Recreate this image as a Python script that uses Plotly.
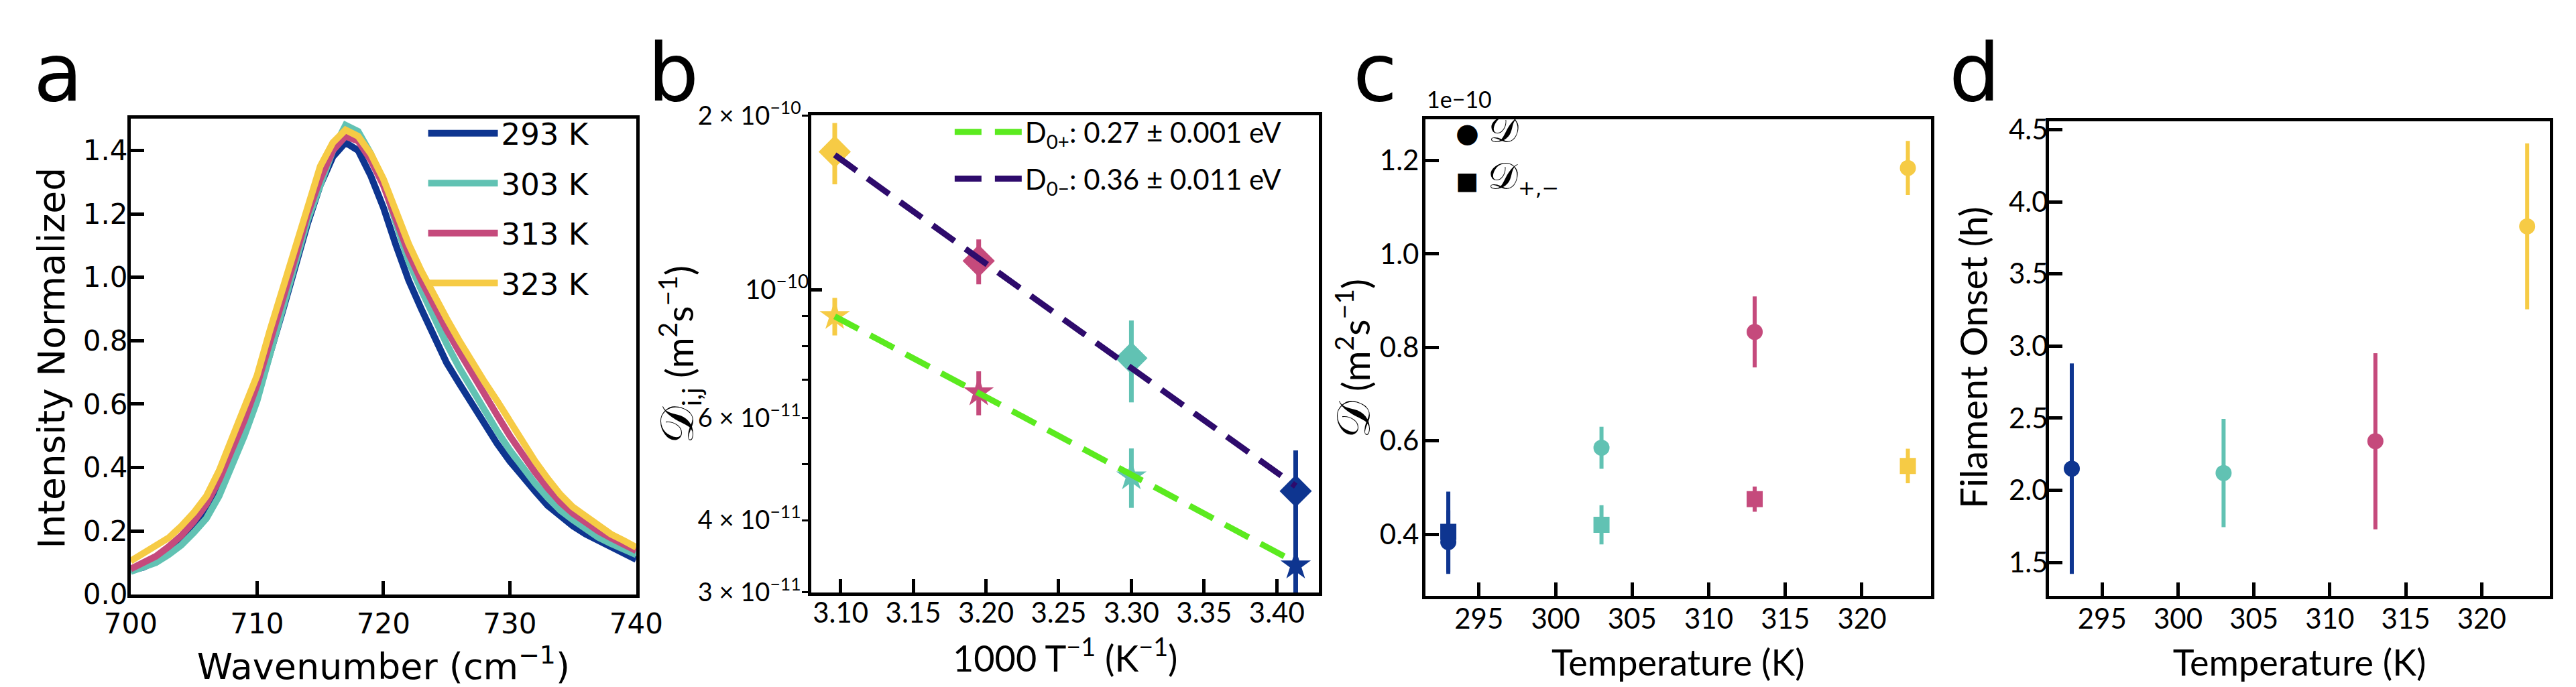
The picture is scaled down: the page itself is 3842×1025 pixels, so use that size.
import plotly.graph_objects as go

W, H = 3842, 1025

# ---------------- data ----------------
# panel a: normalized spectra
wavenumber = list(range(700, 741))
int_293 = [0.075, 0.085, 0.105, 0.13, 0.16, 0.20, 0.25, 0.32, 0.41, 0.51, 0.62, 0.75, 0.89, 1.03, 1.17,
           1.29, 1.38, 1.425, 1.40, 1.32, 1.22, 1.10, 0.99, 0.90, 0.81, 0.73, 0.665, 0.60, 0.535, 0.475,
           0.42, 0.37, 0.325, 0.28, 0.245, 0.215, 0.19, 0.17, 0.15, 0.13, 0.11]
int_303 = [0.072, 0.085, 0.10, 0.125, 0.155, 0.195, 0.24, 0.31, 0.40, 0.50, 0.61, 0.76, 0.90, 1.04, 1.18,
           1.29, 1.40, 1.48, 1.46, 1.39, 1.30, 1.17, 1.05, 0.96, 0.87, 0.79, 0.715, 0.645, 0.58, 0.515,
           0.455, 0.40, 0.35, 0.305, 0.265, 0.235, 0.205, 0.18, 0.16, 0.14, 0.125]
int_313 = [0.08, 0.10, 0.12, 0.15, 0.185, 0.23, 0.285, 0.36, 0.45, 0.55, 0.66, 0.79, 0.93, 1.06, 1.20,
           1.31, 1.40, 1.445, 1.43, 1.37, 1.29, 1.18, 1.075, 0.99, 0.91, 0.835, 0.765, 0.695, 0.63, 0.565,
           0.50, 0.44, 0.385, 0.335, 0.29, 0.255, 0.225, 0.20, 0.178, 0.158, 0.138]
int_323 = [0.105, 0.128, 0.152, 0.178, 0.215, 0.258, 0.31, 0.39, 0.49, 0.59, 0.69, 0.83, 0.96, 1.09, 1.23,
           1.35, 1.425, 1.465, 1.445, 1.39, 1.31, 1.21, 1.105, 1.02, 0.94, 0.87, 0.80, 0.73, 0.67, 0.61,
           0.545, 0.48, 0.42, 0.365, 0.315, 0.275, 0.245, 0.215, 0.19, 0.17, 0.148]
spectra = [int_293, int_303, int_313, int_323]
temp_labels = ["293 K", "303 K", "313 K", "323 K"]
temp_colors = ["#0E3590", "#61C2B3", "#C54A7C", "#F6CB45"]

# panel b: Arrhenius plot (x = 1000/T), ordered 323, 313, 303, 293 K
inv_T = [3.096, 3.195, 3.300, 3.413]
inv_T_colors = ["#F6CB45", "#C54A7C", "#61C2B3", "#0E3590"]
D_minus = [1.732e-10, 1.122e-10, 7.62e-11, 4.49e-11]
D_minus_err = [2.1e-11, 1.0e-11, 1.23e-11, 7.9e-12]
D_plus = [9.01e-11, 6.65e-11, 4.76e-11, 3.34e-11]
D_plus_err = [6.7e-12, 5.8e-12, 5.6e-12, 4.2e-12]
fit_x = [3.096, 3.413]
fit_plus = [9.0e-11, 3.38e-11]
fit_minus = [1.71e-10, 4.58e-11]
fit_labels = ["D<sub>0+</sub>: 0.27 ± 0.001 eV", "D<sub>0−</sub>: 0.36 ± 0.011 eV"]
fit_colors = ["#5BEA1F", "#2E0B6C"]

# panel c: diffusion coefficients (units of 1e-10 m^2/s)
temperature = [293, 303, 313, 323]
D_mean = [0.383, 0.585, 0.833, 1.184]
D_mean_err = [0.068, 0.045, 0.076, 0.058]
D_pm = [0.405, 0.420, 0.475, 0.546]
D_pm_err = [0.086, 0.042, 0.027, 0.037]

# panel d: filament onset (h)
onset = [2.15, 2.12, 2.34, 3.83]
onset_err = [0.73, 0.375, 0.61, 0.575]

# ---------------- figure ----------------
fig = go.Figure()

for lbl, col, ys in zip(temp_labels, temp_colors, spectra):
    fig.add_trace(go.Scatter(x=wavenumber, y=ys, mode="lines", name=lbl, legendgroup=lbl,
                             line=dict(color=col, width=10), xaxis="x", yaxis="y",
                             legend="legend"))

for i in range(len(inv_T)):
    fig.add_trace(go.Scatter(x=[inv_T[i]], y=[D_minus[i]], mode="markers", showlegend=False,
                             marker=dict(symbol="diamond", size=37, color=inv_T_colors[i]),
                             error_y=dict(type="data", array=[D_minus_err[i]], color=inv_T_colors[i],
                                          thickness=7, width=0),
                             xaxis="x2", yaxis="y2"))
    fig.add_trace(go.Scatter(x=[inv_T[i]], y=[D_plus[i]], mode="markers", showlegend=False,
                             marker=dict(symbol="star", size=34, color=inv_T_colors[i]),
                             error_y=dict(type="data", array=[D_plus_err[i]], color=inv_T_colors[i],
                                          thickness=7, width=0),
                             xaxis="x2", yaxis="y2"))
for lbl, col, ys in zip(fit_labels, fit_colors, [fit_plus, fit_minus]):
    fig.add_trace(go.Scatter(x=fit_x, y=ys, mode="lines", name=lbl, legendgroup=lbl,
                             line=dict(color=col, width=9, dash="40px,20px"),
                             xaxis="x2", yaxis="y5", legend="legend2"))

for i in range(len(temperature)):
    fig.add_trace(go.Scatter(x=[temperature[i]], y=[D_mean[i]], mode="markers", showlegend=False,
                             marker=dict(symbol="circle", size=24, color=temp_colors[i]),
                             error_y=dict(type="data", array=[D_mean_err[i]], color=temp_colors[i],
                                          thickness=6, width=0),
                             xaxis="x3", yaxis="y3"))
for i in range(len(temperature)):
    fig.add_trace(go.Scatter(x=[temperature[i]], y=[D_pm[i]], mode="markers", showlegend=False,
                             marker=dict(symbol="square", size=24, color=temp_colors[i]),
                             error_y=dict(type="data", array=[D_pm_err[i]], color=temp_colors[i],
                                          thickness=6, width=0),
                             xaxis="x3", yaxis="y3"))

for i in range(len(temperature)):
    fig.add_trace(go.Scatter(x=[temperature[i]], y=[onset[i]], mode="markers", showlegend=False,
                             marker=dict(symbol="circle", size=24, color=temp_colors[i]),
                             error_y=dict(type="data", array=[onset_err[i]], color=temp_colors[i],
                                          thickness=6, width=0),
                             xaxis="x4", yaxis="y4"))


def px_x(a, b):
    return [a / W, b / W]


def px_y(top, bottom):
    return [1 - bottom / H, 1 - top / H]


DV = "DejaVu Sans"
LT = "Lato"

common = dict(showline=True, linewidth=5, linecolor="black", mirror=True, ticks="inside",
              ticklen=20, tickwidth=5, tickcolor="black", showgrid=False, zeroline=False)

fig.update_layout(
    width=W, height=H, margin=dict(l=0, r=0, t=0, b=0),
    paper_bgcolor="white", plot_bgcolor="white",
    font=dict(color="black", family=LT),
    xaxis=dict(domain=px_x(150, 920), range=[700, 740], tickvals=[700, 710, 720, 730, 740],
               anchor="y", tickfont=dict(family=DV, size=42, color="black"), ticklabelstandoff=3,
               title=dict(text="Wavenumber (cm<sup>−1</sup>)", font=dict(family=DV, size=54, color="black"),
                          standoff=15),
               **common),
    yaxis=dict(domain=px_y(148, 897), range=[0, 1.5], dtick=0.2, tickformat=".1f",
               anchor="x", tickfont=dict(family=DV, size=42, color="black"), ticklabelstandoff=-9,
               **common),
    xaxis2=dict(domain=px_x(1187, 1960), range=[3.080, 3.429],
                tickvals=[3.10, 3.15, 3.20, 3.25, 3.30, 3.35, 3.40], tickformat=".2f",
                anchor="y2", tickfont=dict(family=LT, size=42, color="black"), ticklabelstandoff=-10,
                title=dict(text="1000 T<sup>−1</sup> (K<sup>−1</sup>)",
                           font=dict(family=LT, size=54, color="black"), standoff=28),
                **common),
    yaxis2=dict(domain=px_y(143, 894), type="log", range=[-10.5229, -9.69897],
                tickvals=[3e-11, 4e-11, 6e-11, 2e-10],
                ticktext=["3 × 10<sup>−11</sup>", "4 × 10<sup>−11</sup>", "6 × 10<sup>−11</sup>",
                          "2 × 10<sup>−10</sup>"],
                anchor="x2", tickfont=dict(family=LT, size=38, color="black"), ticklabelstandoff=-6,
                showline=True, linewidth=5, linecolor="black", mirror=True, ticks="outside",
                ticklen=9, tickwidth=3, tickcolor="black", showgrid=False, zeroline=False,
                minor=dict(tickvals=[5e-11, 7e-11, 8e-11, 9e-11], ticks="outside", ticklen=9,
                           tickwidth=3, tickcolor="black", showgrid=False)),
    yaxis5=dict(domain=px_y(143, 894), type="log", range=[-10.5229, -9.69897], overlaying="y2",
                anchor="x2", side="left", tickvals=[1e-10], ticktext=["10<sup>−10</sup>"],
                tickfont=dict(family=LT, size=40, color="black"), ticks="inside", ticklen=16, tickwidth=5,
                tickcolor="black", showline=False, showgrid=False, zeroline=False, ticklabelstandoff=3),
    xaxis3=dict(domain=px_x(2122, 2892), range=[291.5, 324.5], tickvals=[295, 300, 305, 310, 315, 320],
                anchor="y3", tickfont=dict(family=LT, size=42, color="black"), ticklabelstandoff=-6,
                title=dict(text="Temperature (K)", font=dict(family=LT, size=54, color="black"), standoff=26),
                **common),
    yaxis3=dict(domain=px_y(149, 899), range=[0.2685, 1.288], tickvals=[0.4, 0.6, 0.8, 1.0, 1.2],
                tickformat=".1f", anchor="x3", tickfont=dict(family=LT, size=42, color="black"),
                ticklabelstandoff=-4, **common),
    xaxis4=dict(domain=px_x(3072, 3835), range=[291.5, 324.5], tickvals=[295, 300, 305, 310, 315, 320],
                anchor="y4", tickfont=dict(family=LT, size=42, color="black"), ticklabelstandoff=-6,
                title=dict(text="Temperature (K)", font=dict(family=LT, size=54, color="black"), standoff=26),
                **common),
    yaxis4=dict(domain=px_y(152, 899), range=[1.27, 4.558], dtick=0.5, tickformat=".1f",
                anchor="x4", tickfont=dict(family=LT, size=42, color="black"), ticklabelstandoff=-12,
                **common),
    legend=dict(x=598 / W, y=1 - 133 / H, xanchor="left", yanchor="top", bgcolor="rgba(0,0,0,0)",
                font=dict(family=DV, size=45, color="black"), itemwidth=104, traceorder="grouped",
                tracegroupgap=13),
    legend2=dict(x=1400 / W, y=1 - 133 / H, xanchor="left", yanchor="top", bgcolor="rgba(0,0,0,0)",
                 font=dict(family=LT, size=42, color="black"), itemwidth=100, traceorder="grouped",
                 tracegroupgap=12),
    showlegend=True,
)


def paper(xp, yp):
    return dict(x=xp / W, y=1 - yp / H, xref="paper", yref="paper", showarrow=False)


BIG_D = "<span style='font-size:70px'>𝒟</span>"
letters = [("a", 0), ("b", 935), ("c", 2010), ("d", 2918)]
annotations = []
for t, xp in letters:
    a = paper(xp, 0)
    a.update(text=t, xanchor="left", yanchor="top", font=dict(family=DV, size=120, color="black"))
    annotations.append(a)

# y-axis titles
ytitles = [
    ("Intensity Normalized", 30, 525, DV, 55),
    (BIG_D + "<sub>i,j</sub> (m<sup>2</sup>s<sup>−1</sup>)", 982, 520, LT, 56),
    (BIG_D + " (m<sup>2</sup>s<sup>−1</sup>)", 2010, 526, LT, 56),
    ("Filament Onset (h)", 2956, 524, LT, 56),
]
for txt, xp, yp, fam, sz in ytitles:
    a = paper(xp, yp)
    a.update(text=txt, textangle=-90, xanchor="center", yanchor="middle",
             font=dict(family=fam, size=sz, color="black"))
    annotations.append(a)

a = paper(2122, 140)
a.update(text="1e−10", xanchor="left", yanchor="bottom", font=dict(family=LT, size=34, color="black"))
annotations.append(a)

# panel c key
a = paper(2166, 201)
a.update(text="<span style='font-size:40px'>●</span> <span style='font-size:56px'>𝒟</span>",
         xanchor="left", yanchor="bottom", font=dict(family=DV, size=44, color="black"))
annotations.append(a)
a = paper(2166, 202)
a.update(text="<span style='font-size:36px'>■</span> <span style='font-size:56px'>𝒟</span><sub>+,−</sub>",
         xanchor="left", yanchor="top", font=dict(family=DV, size=44, color="black"))
annotations.append(a)

fig.update_layout(annotations=annotations)

fig.write_html("out.html")
